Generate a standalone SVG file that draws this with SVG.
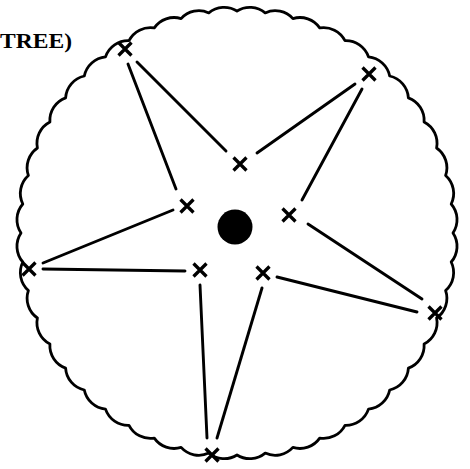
<svg xmlns="http://www.w3.org/2000/svg" width="470" height="469" viewBox="0 0 470 469">
<style>
.ln{stroke:#000;stroke-width:2.9;stroke-linecap:round;fill:none}
.x{stroke:#000;stroke-width:3.3;stroke-linecap:butt;fill:none}
.bd{stroke:#000;stroke-width:2.8;fill:none;stroke-linejoin:round}
.lbl{font-family:"Liberation Serif","DejaVu Serif",serif;font-weight:bold;font-size:22px;fill:#000}
</style>
<defs>
<path id="xm" class="x" d="M-6.5,-6.5L6.5,6.5M6.5,-6.5L-6.5,6.5"/>
</defs>
<rect width="470" height="469" fill="#fff"/>
<text class="lbl" x="0" y="48" textLength="72" lengthAdjust="spacingAndGlyphs">TREE)</text>
<g id="boundary">
<path class="bd" d="M453,233 A24,24 0 0 1 451.2,262 A24,24 0 0 1 445.6,290.5 A24,24 0 0 1 436.6,318 A24,24 0 0 1 424.1,344 A24,24 0 0 1 408.4,368.1 A24,24 0 0 1 389.7,390 A24,24 0 0 1 368.5,409.1 A24,24 0 0 1 345,425.3 A24,24 0 0 1 319.7,438.1 A24,24 0 0 1 292.9,447.4 A24,24 0 0 1 265.2,453.1 A24,24 0 0 1 237,455 A24,24 0 0 1 208.8,453.1 A24,24 0 0 1 181.1,447.4 A24,24 0 0 1 154.3,438.1 A24,24 0 0 1 129,425.3 A24,24 0 0 1 105.5,409.1 A24,24 0 0 1 84.3,390 A24,24 0 0 1 65.6,368.1 A24,24 0 0 1 49.9,344 A24,24 0 0 1 37.4,318 A24,24 0 0 1 28.4,290.5 A24,24 0 0 1 22.8,262 A24,24 0 0 1 21,233 A24,24 0 0 1 22.8,204 A24,24 0 0 1 28.4,175.5 A24,24 0 0 1 37.4,148 A24,24 0 0 1 49.9,122 A24,24 0 0 1 65.6,97.9 A24,24 0 0 1 84.3,76 A24,24 0 0 1 105.5,56.9 A24,24 0 0 1 129,40.7 A24,24 0 0 1 154.3,27.9 A24,24 0 0 1 181.1,18.6 A24,24 0 0 1 208.8,12.9 A24,24 0 0 1 237,11 A24,24 0 0 1 265.2,12.9 A24,24 0 0 1 292.9,18.6 A24,24 0 0 1 319.7,27.9 A24,24 0 0 1 345,40.7 A24,24 0 0 1 368.5,56.9 A24,24 0 0 1 389.7,76 A24,24 0 0 1 408.4,97.9 A24,24 0 0 1 424.1,122 A24,24 0 0 1 436.6,148 A24,24 0 0 1 445.6,175.5 A24,24 0 0 1 451.2,204 A24,24 0 0 1 453,233 Z"/>
</g>
<g id="connectors">
<line class="ln" x1="128" y1="64" x2="176" y2="189"/>
<line class="ln" x1="137" y1="62" x2="226" y2="151"/>
<line class="ln" x1="355" y1="84" x2="257" y2="153"/>
<line class="ln" x1="362" y1="89" x2="302" y2="200"/>
<line class="ln" x1="43" y1="263" x2="173" y2="210"/>
<line class="ln" x1="43" y1="269" x2="185" y2="271"/>
<line class="ln" x1="308" y1="224" x2="422" y2="299"/>
<line class="ln" x1="277" y1="277" x2="417" y2="312"/>
<line class="ln" x1="200" y1="285" x2="207" y2="438"/>
<line class="ln" x1="262" y1="288" x2="217" y2="438"/>
</g>
<g id="center"><circle cx="235" cy="227" r="17.5" fill="#000"/></g>
<g id="p-top-left"><use href="#xm" x="125" y="49"/></g>
<g id="p-top-right"><use href="#xm" x="369" y="74"/></g>
<g id="p-left"><use href="#xm" x="29" y="269"/></g>
<g id="p-right"><use href="#xm" x="435" y="313"/></g>
<g id="p-bottom"><use href="#xm" x="212" y="455"/></g>
<g id="i-top"><use href="#xm" x="240" y="164"/></g>
<g id="i-left"><use href="#xm" x="187" y="206"/></g>
<g id="i-right"><use href="#xm" x="289" y="215"/></g>
<g id="i-bottom-left"><use href="#xm" x="200" y="270"/></g>
<g id="i-bottom-right"><use href="#xm" x="263" y="273"/></g>
</svg>
